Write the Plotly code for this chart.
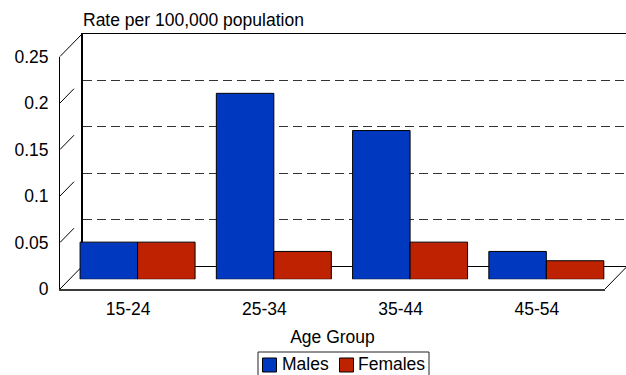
import plotly.graph_objects as go

# ---- data -------------------------------------------------------------
age_groups = ["15-24", "25-34", "35-44", "45-54"]
males = [0.04, 0.20, 0.16, 0.03]
females = [0.04, 0.03, 0.04, 0.02]
y_tick_vals = [0, 0.05, 0.1, 0.15, 0.2, 0.25]
y_tick_text = ["0", "0.05", "0.1", "0.15", "0.2", "0.25"]
y_max = 0.25

# ---- styling / geometry ------------------------------------------------
W, H = 626, 375
FONT = "Liberation Sans, Arial, Helvetica, sans-serif"
FS = 17.5

MALE_FRONT, MALE_SIDE = "#0039BF", "#00206E"
FEMALE_FRONT, FEMALE_SIDE = "#BF2200", "#6A1400"

FX0, FX1 = 60.0, 605.0      # front floor edge (px)
FY0, FY1 = 289.0, 56.5      # front plane: y of value 0 and of y_max (px)
DX, DY = 22.5, 23.0         # shift from the front plane to the back wall (px)
BAR_T = 0.42                # depth of the bars' front faces (0 front, 1 back)
BAR_DEPTH = 3.6             # projected thickness of each bar (px)
BARGAP = 0.156

SCALE = (FY0 - FY1) / y_max             # px per unit of value
CAT_W = (FX1 - FX0) / len(age_groups)   # px per category


def px(x):
    return x / W


def py(y):
    return 1 - y / H


def xdom(left, right):
    return [max(0.0, px(left)), min(1.0, px(right))]


def ydom(top, bottom):
    return [max(0.0, py(bottom)), min(1.0, py(top))]


fig = go.Figure()

# back wall (grid lives on its axes)
fig.add_trace(go.Scatter(x=[], y=[], xaxis="x", yaxis="y",
                         showlegend=False, hoverinfo="skip"))

# left wall: diagonal tick lines running from the front axis to the back wall
wall_pad = 2.0
rise = DY / SCALE
for v in y_tick_vals:
    edge = v in (0, y_max)
    fig.add_trace(go.Scatter(
        x=[0, 1], y=[v, v + rise], mode="lines",
        line=dict(color="black", width=1, dash=None if edge else "20px,12px"),
        xaxis="x2", yaxis="y2", showlegend=False, hoverinfo="skip"))

# bars (front faces)
fig.add_trace(go.Bar(
    x=age_groups, y=males, name="Males", marker_color=MALE_FRONT,
    marker_line=dict(color="black", width=1), xaxis="x3", yaxis="y3",
    showlegend=False))
fig.add_trace(go.Bar(
    x=age_groups, y=females, name="Females", marker_color=FEMALE_FRONT,
    marker_line=dict(color="black", width=1), xaxis="x3", yaxis="y3",
    showlegend=False))

# top and side faces of each bar
half = (1 - BARGAP) / 2
ddx = BAR_DEPTH / CAT_W
ddy = BAR_DEPTH / SCALE


def face(xs, ys, color):
    fig.add_trace(go.Scatter(
        x=xs, y=ys, mode="lines", fill="toself", fillcolor=color,
        line=dict(color="black", width=0.8), xaxis="x3", yaxis="y3",
        showlegend=False, hoverinfo="skip"))


for i, (m, f) in enumerate(zip(males, females)):
    ml, mid, fr = i - half, i, i + half
    # male: visible part of the right side sits above the female bar
    if m > f:
        face([mid, mid, mid + ddx, mid + ddx, mid], [f, m, m + ddy, f + ddy, f], MALE_SIDE)
    face([ml, mid, mid + ddx, ml + ddx, ml], [m, m, m + ddy, m + ddy, m], MALE_FRONT)
    # female
    face([fr, fr, fr + ddx, fr + ddx, fr], [0, f, f + ddy, ddy, 0], FEMALE_SIDE)
    face([mid, fr, fr + ddx, mid + ddx, mid], [f, f, f + ddy, f + ddy, f], FEMALE_FRONT)

# front axes carry the tick labels
fig.add_trace(go.Scatter(x=[], y=[], xaxis="x4", yaxis="y4",
                         showlegend=False, hoverinfo="skip"))

axis_font = dict(family=FONT, size=FS, color="black")
bare = dict(showgrid=False, zeroline=False, showticklabels=False, ticks="",
            fixedrange=True)

# ---- legend box below the axis title ---------------------------------
LEG_L, LEG_R, LEG_T = 258.0, 429.0, 352.0
LEG_TEXT_Y = 364.0
legend_items = [("Males", MALE_FRONT, 262.5, 281.0),
                ("Females", FEMALE_FRONT, 339.5, 356.5)]
SW = 14.0   # swatch size

shapes = [
    # right-hand edge of the floor
    dict(type="line", xref="paper", yref="paper",
         x0=px(FX1), y0=py(FY0), x1=px(FX1 + DX), y1=py(FY0 - DY),
         line=dict(color="black", width=1)),
    # legend frame (runs off the bottom edge)
    dict(type="rect", xref="paper", yref="paper",
         x0=px(LEG_L), x1=px(LEG_R), y0=py(H + 4), y1=py(LEG_T),
         line=dict(color="#222222", width=1), fillcolor="white", layer="below"),
]
annotations = []
for label, color, sx, tx in legend_items:
    shapes.append(dict(type="rect", xref="paper", yref="paper",
                       x0=px(sx), x1=px(sx + SW),
                       y0=py(LEG_TEXT_Y + SW / 2 + 1), y1=py(LEG_TEXT_Y - SW / 2 + 1),
                       line=dict(color="black", width=1), fillcolor=color))
    annotations.append(dict(text=label, xref="paper", yref="paper",
                            x=px(tx), y=py(LEG_TEXT_Y), xanchor="left",
                            yanchor="middle", showarrow=False, font=axis_font,
                            borderpad=0))

fig.update_layout(
    width=W, height=H,
    margin=dict(l=0, r=0, t=0, b=0, autoexpand=False),
    paper_bgcolor="white", plot_bgcolor="rgba(0,0,0,0)",
    font=axis_font,
    barmode="group", bargap=BARGAP, bargroupgap=0,
    showlegend=False,
    title=dict(text="Rate per 100,000 population", font=axis_font,
               xref="container", yref="container",
               x=px(83), xanchor="left", y=py(20), yanchor="middle"),
    # back wall
    xaxis=dict(**bare, domain=xdom(FX0 + DX, FX1 + DX), range=[0, 1],
               anchor="y", showline=True, mirror=True,
               linecolor="black", linewidth=1),
    yaxis=dict(showgrid=True, zeroline=False, showticklabels=False, ticks="",
               fixedrange=True, gridcolor="#333333", gridwidth=1,
               griddash="9px,5px",
               tickvals=y_tick_vals[1:-1],
               domain=ydom(FY1 - DY, FY0 - DY), range=[0, y_max],
               anchor="x", showline=True, linecolor="black", linewidth=2),
    # left wall
    xaxis2=dict(**bare, anchor="y2",
                domain=xdom(FX0 - wall_pad, FX0 + DX + wall_pad),
                range=[-wall_pad / DX, 1 + wall_pad / DX]),
    yaxis2=dict(**bare, anchor="x2",
                domain=ydom(FY1 - DY - wall_pad, FY0 + wall_pad),
                range=[-wall_pad / SCALE, y_max + (DY + wall_pad) / SCALE]),
    # bars plane
    xaxis3=dict(**bare, anchor="y3", type="category",
                domain=xdom(FX0 + BAR_T * DX, FX1 + BAR_T * DX),
                range=[-0.5, len(age_groups) - 0.5]),
    yaxis3=dict(**bare, anchor="x3",
                domain=ydom(FY1 - BAR_T * DY, FY0 - BAR_T * DY),
                range=[0, y_max]),
    # front plane with the labelled axes
    xaxis4=dict(showgrid=False, zeroline=False, ticks="", fixedrange=True,
                anchor="y4", domain=xdom(FX0, FX1),
                range=[-0.5, len(age_groups) - 0.5],
                tickvals=list(range(len(age_groups))), ticktext=age_groups,
                tickfont=axis_font, ticklabelstandoff=3,
                showline=True, linecolor="#3c3c3c", linewidth=2,
                title=dict(text="Age Group", font=axis_font, standoff=13)),
    yaxis4=dict(showgrid=False, zeroline=False, ticks="", fixedrange=True,
                anchor="x4", domain=ydom(FY1, FY0),
                range=[-1e-6, y_max + 1e-6],
                tickvals=y_tick_vals, ticktext=y_tick_text,
                tickfont=axis_font, ticklabelstandoff=7,
                showline=True, linecolor="black", linewidth=1),
    shapes=shapes,
    annotations=annotations,
)

fig.write_html("out.html")
